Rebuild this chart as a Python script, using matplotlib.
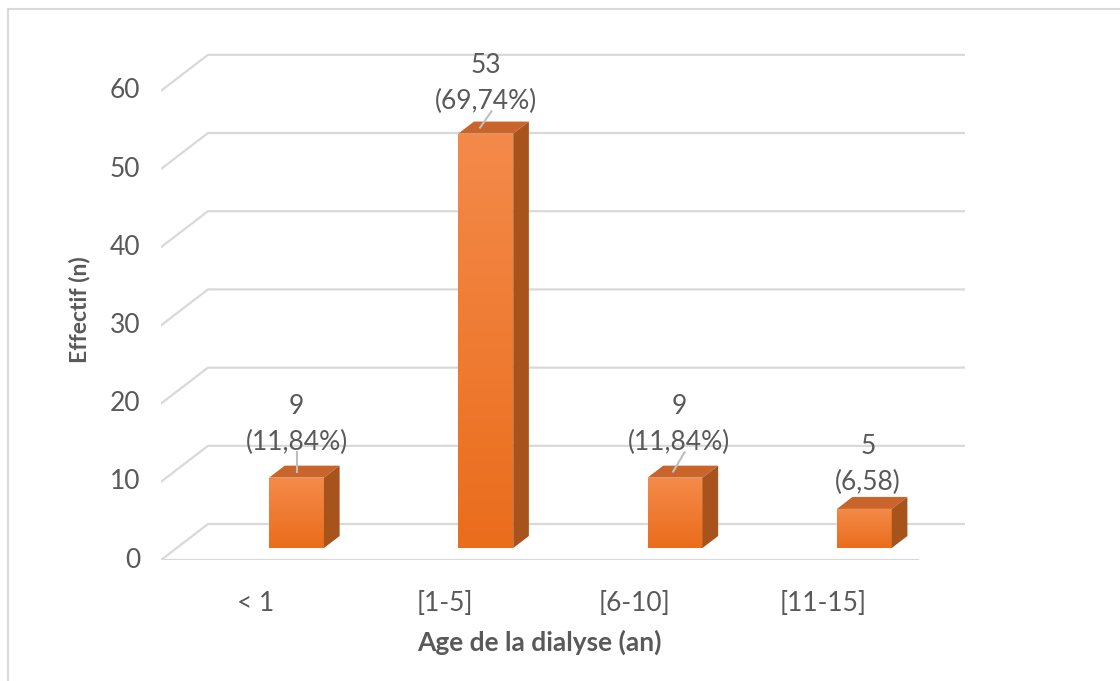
import matplotlib.pyplot as plt
import numpy as np
from matplotlib.patches import Polygon, Rectangle
from matplotlib.lines import Line2D
from matplotlib.colors import LinearSegmentedColormap

categories = ['< 1', '[1-5]', '[6-10]', '[11-15]']
effectif = [9, 53, 9, 5]
pourcentages = ['(11,84%)', '(69,74%)', '(11,84%)', '(6,58)']
yticks = [0, 10, 20, 30, 40, 50, 60]

plt.rcParams['font.family'] = ['Lato', 'DejaVu Sans']
txt_col = '#595959'
grid_col = '#d9d9d9'
fs = 19

fig = plt.figure(figsize=(11.2, 6.81), dpi=100)
ax = fig.add_axes([161 / 1120, 121 / 681, 804 / 1120, 508.3 / 681])
n = len(categories)
DX, DY = 0.248, 4.6          # floor depth (oblique)
ax.set_xlim(0, n + DX)
ax.set_ylim(0, 65)
ax.axis('off')

# back wall gridlines + left side diagonals
for v in yticks:
    ax.plot([0, DX, n + DX], [v, v + DY, v + DY], color=grid_col, lw=1.6,
            solid_capstyle='round', zorder=1)
    ax.text(-0.11, v, str(v), ha='right', va='center', fontsize=fs, color=txt_col)
ax.plot([0, n], [0, 0], color=grid_col, lw=1.6, zorder=1)

# 3d columns, sitting in the middle third of the floor depth
bw = 0.29
ddx, ddy = DX / 3, DY / 3
front_cmap = LinearSegmentedColormap.from_list('front', ['#ea6d1c', '#f48a4a'])
grad = np.linspace(0, 1, 100).reshape(-1, 1)
label_off = [3.0, 2.6, 3.0, 1.8]

for i, v in enumerate(effectif):
    xl = i + 0.5 + 0.216 - bw / 2
    yb = ddy
    yt = yb + v
    front = Rectangle((xl, yb), bw, v, facecolor='none', edgecolor='none')
    ax.add_patch(front)
    im = ax.imshow(grad, cmap=front_cmap, extent=(xl, xl + bw, yb, yt),
                   origin='lower', aspect='auto', zorder=3)
    im.set_clip_path(front)
    top = Polygon([(xl, yt), (xl + bw, yt), (xl + bw + ddx, yt + ddy), (xl + ddx, yt + ddy)],
                  closed=True, facecolor='#c9652b', edgecolor='none', zorder=3)
    side = Polygon([(xl + bw, yb), (xl + bw + ddx, yb + ddy), (xl + bw + ddx, yt + ddy), (xl + bw, yt)],
                   closed=True, facecolor='#a9531c', edgecolor='none', zorder=3)
    ax.add_patch(top)
    ax.add_patch(side)

    # value + percentage label
    cx = xl + bw / 2 + (0.02 if i > 1 else 0)
    yl = yt + ddy + label_off[i]
    ax.text(cx, yl, pourcentages[i], ha='center', va='center', fontsize=fs,
            color=txt_col, zorder=5)
    ax.text(cx, yl + 4.6, str(v), ha='center', va='center', fontsize=fs,
            color=txt_col, zorder=5)
    if i < 3:
        tilt = 0.03 if i > 0 else 0
        ax.plot([cx + tilt, cx - tilt], [yl - 1.3, yt + ddy / 2],
                color='#bfbfbf', lw=1.5, zorder=4)

for i, c in enumerate(categories):
    ax.text(i + 0.5, -5.5, c, ha='center', va='center', fontsize=fs, color=txt_col)

ax.text(n / 2, -10.5, 'Age de la dialyse (an)', ha='center', va='center',
        fontsize=fs, fontweight='bold', color=txt_col)
ax.text(-0.43, 32, 'Effectif (n)', ha='center', va='center', rotation=90,
        fontsize=16.5, fontweight='bold', color=txt_col)

# outer chart border (top and left edges)
fig.add_artist(Line2D([8 / 1120, 1], [1 - 9 / 681] * 2, transform=fig.transFigure,
                      color='#d9d9d9', lw=1.5))
fig.add_artist(Line2D([8 / 1120] * 2, [0, 1 - 9 / 681], transform=fig.transFigure,
                      color='#d9d9d9', lw=1.5))

fig.savefig('out.png', dpi=100)
